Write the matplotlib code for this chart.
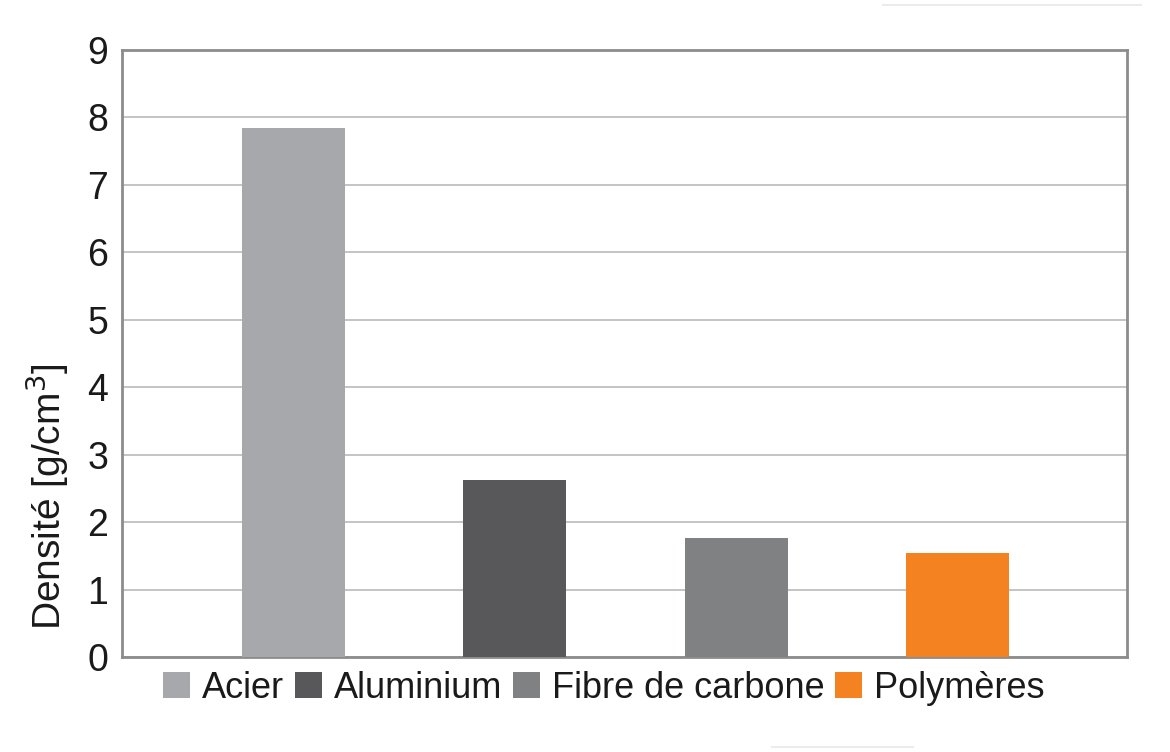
import numpy as np
import matplotlib.pyplot as plt
from matplotlib.patches import Patch

plt.rcParams['font.family'] = ['Liberation Sans', 'DejaVu Sans']

# données
materiaux = ['Acier', 'Aluminium', 'Fibre de carbone', 'Polymères']
densite = [7.84, 2.62, 1.77, 1.54]
couleurs = ['#a7a8ab', '#58585a', '#808183', '#f58220']
yticks = [0, 1, 2, 3, 4, 5, 6, 7, 8, 9]

fig = plt.figure(figsize=(11.7, 7.52), dpi=100)
ax = fig.add_axes([0.1043, 0.1263, 0.8589, 0.8072])

x = np.arange(len(materiaux))
ax.bar(x, densite, width=0.466, color=couleurs, zorder=3)

ax.set_xlim(-0.776, 3.767)
ax.set_ylim(0, 9)
ax.set_yticks(yticks)
ax.set_yticklabels([str(v) for v in yticks], fontsize=27, color='#1a1a1a')
ax.set_xticks([])
ax.tick_params(axis='y', length=0, pad=10)
ax.grid(axis='y', color='#c4c4c4', linewidth=1.4, zorder=0)
for s in ax.spines.values():
    s.set_color('#8c8c8c')
    s.set_linewidth(2)

# l'étiquette est décalée vers le bas dans l'original
ax.set_ylabel('Densité [g/cm$^3$]', fontsize=28, color='#1a1a1a')
ax.yaxis.set_label_coords(-0.051, 0.264)

handles = [Patch(facecolor=c, edgecolor='none') for c in couleurs]
fig.legend(handles, materiaux, loc='center', bbox_to_anchor=(0.516, 0.085),
           ncol=4, frameon=False, fontsize=26, handlelength=0.75, handleheight=0.75,
           handletextpad=0.33, columnspacing=0.3, labelcolor='#1a1a1a')

# traits parasites de la capture
fig.add_artist(plt.Line2D([0.755, 0.975], [0.993, 0.993], color='#ececec', linewidth=1.5))
fig.add_artist(plt.Line2D([0.66, 0.78], [0.006, 0.006], color='#ececec', linewidth=1.5))

fig.savefig('out.png', dpi=100, facecolor='white')
